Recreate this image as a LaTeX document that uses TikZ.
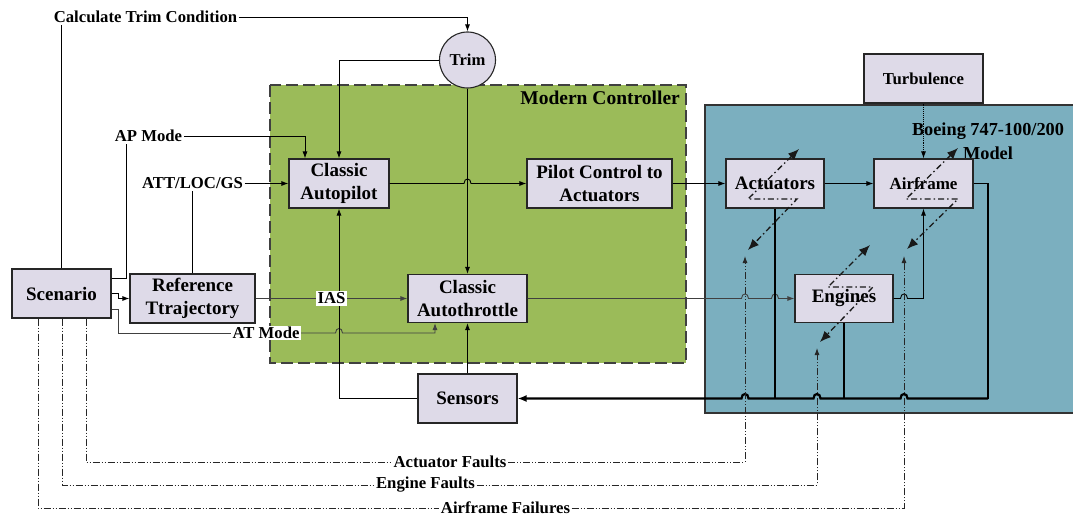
\documentclass[tikz,border=0pt]{standalone}
\usepackage{fontspec}
\setmainfont{Liberation Serif}
\usetikzlibrary{arrows.meta}
\definecolor{boxfill}{RGB}{222,218,232}
\definecolor{ctrlgreen}{RGB}{155,187,89}
\definecolor{plantblue}{RGB}{123,175,191}
\tikzset{
  blk/.style={draw=black!85, fill=boxfill, line width=1.1pt, inner sep=0pt, align=center,
              font=\fontsize{19}{23}\selectfont\bfseries},
  lbl/.style={inner sep=1.5pt, font=\fontsize{16.7}{19}\selectfont\bfseries},
  wlbl/.style={lbl, fill=white},
  conn/.style={draw=black, line width=0.9pt},
  arr/.style={conn, -{Latex[length=7pt,width=5pt]}},
  busline/.style={draw=black, line width=1.5pt},
  busarr/.style={draw=black, line width=2.2pt, -{Latex[length=9pt,width=7pt]}},
  faultline/.style={draw=black!85, line width=0.9pt,
     dash pattern=on 7pt off 2pt on 1pt off 2pt on 1pt off 2pt, -{Latex[length=7pt,width=5pt]}},
  zfault/.style={draw=black!90, line width=1.3pt, dash pattern=on 6pt off 3pt on 1.5pt off 3pt,
     {Latex[length=11pt,width=9pt]}-{Latex[length=11pt,width=9pt]}},
  hop/.style args={#1,#2}{insert path={-- (#1-3.5,#2) .. controls (#1-3.5,#2-6) and (#1+3.5,#2-6) .. (#1+3.5,#2)}},
  hopl/.style args={#1,#2}{insert path={-- (#1+3.5,#2) .. controls (#1+3.5,#2-6) and (#1-3.5,#2-6) .. (#1-3.5,#2)}},
}
\begin{document}
\begin{tikzpicture}[x=1pt,y=-1pt]
\useasboundingbox (0,0) rectangle (1073,516);
\clip (0,0) rectangle (1073,516);
\fill[white] (0,0) rectangle (1073,516);

% group backgrounds
\draw[fill=ctrlgreen, draw=black!75, line width=1.2pt, dash pattern=on 12pt off 5pt] (270,85) rectangle (686,363);
\node[anchor=east, inner sep=0pt, font=\fontsize{19.5}{23}\selectfont\bfseries] (mclbl) at (680,98) {Modern Controller};
\draw[fill=plantblue, draw=black!80, line width=1.1pt] (705,105) rectangle (1085,413);
\node[align=center, inner sep=0pt, font=\fontsize{18.3}{24}\selectfont\bfseries] (bmlbl) at (988,141) {Boeing 747-100/200\\Model};

% blocks
\node[blk, minimum width=99pt, minimum height=49pt] (scen) at (61.5,293.5) {Scenario};
\node[blk, minimum width=125pt, minimum height=49pt] (ref) at (192.5,298.5) {Reference\\Ttrajectory};
\node[blk, minimum width=100pt, minimum height=49pt] (ap) at (339,183.5) {Classic\\Autopilot};
\node[blk, minimum width=145pt, minimum height=49pt] (pc) at (599.5,183.5) {Pilot Control to\\Actuators};
\node[blk, minimum width=98pt, minimum height=49pt] (act) at (775,183.5) {Actuators};
\node[blk, minimum width=99pt, minimum height=49pt, font=\fontsize{17}{20}\selectfont\bfseries] (air) at (923.5,183.5) {Airframe};
\node[blk, minimum width=98pt, minimum height=48pt] (eng) at (844,298.5) {Engines};
\node[blk, minimum width=119pt, minimum height=48pt] (at) at (467.5,298.5) {Classic\\Autothrottle};
\node[blk, minimum width=99pt, minimum height=49pt] (sen) at (467.5,398.5) {Sensors};
\node[blk, minimum width=119pt, minimum height=49pt, font=\fontsize{16.7}{19}\selectfont\bfseries] (turb) at (923.5,78.5) {Turbulence};
\node[blk, circle, minimum size=56pt, font=\fontsize{16.6}{19}\selectfont\bfseries] (trim) at (467.5,60) {Trim};

% labels
\node[lbl] (ctc) at (145.5,17) {Calculate Trim Condition};
\node[lbl] (apm) at (148.5,136) {AP Mode};
\node[lbl] (att) at (192.5,183.5) {ATT/LOC/GS};
\node[wlbl] (atm) at (266,333) {AT Mode};
\node[wlbl] (afl) at (450,462) {Actuator Faults};
\node[wlbl] (efl) at (425.5,485) {Engine Faults};
\node[wlbl] (ffl) at (505.5,508) {Airframe Failures};

\coordinate (busr) at (988,398.5);
\coordinate (fa) at (745,256);
\coordinate (fe) at (817,348);
\coordinate (ff) at (904,256);

% connectors
\draw[conn] (scen.north) -- (scen.north |- ctc.south);
\draw[arr] (ctc.east) -| (trim.north);
\draw[conn] ([yshift=15.5pt]scen.east) -| ([xshift=-22.5pt]apm.south);
\draw[arr] (apm.east) -| ([xshift=-34pt]ap.north);
\draw[arr] (att.east) -- (ap.west);
\draw[conn] (ref.north) -- (att.south);
\draw[arr] (trim.west) -| (ap.north);
\draw[arr] (trim.south) -- (at.north);
\draw[arr] (ap.east) [hop={467.5,183.5}] -- (pc.west);
\draw[arr] (pc.east) -- (act.west);
\draw[arr] (act.east) -- (air.west);
\draw[arr, densely dotted] (turb.south) -- (air.north);
\draw[arr] (scen.east) -- ++(7,0) |- (ref.west);
\draw[conn, draw=black!75] ([yshift=-15.5pt]scen.east) -- ++(7,0) |- (atm.west);
\draw[arr, draw=black!75] (atm.east) [hop={339,333}] -| ([xshift=-32.5pt]at.south);
\draw[arr, draw=black!75] (ref.east) -- (at.west);
\draw[arr] (sen.west) -| (ap.south);
\draw[arr] (sen.north) -- (at.south);
\draw[arr, draw=black!75] (at.east) [hop={745,298.5}] [hop={775,298.5}] -- (eng.west);
\draw[arr] (eng.east) [hop={904,298.5}] -| (air.south);
\draw[busline] (air.east) -| (busr);
\draw[busline] (act.south) -- (act.south |- busr);
\draw[busline] (eng.south) -- (eng.south |- busr);
\draw[busarr] (busr) [hopl={904,398.5}] [hopl={817,398.5}] [hopl={745,398.5}] -- (sen.east);

% fault lines
\draw[faultline, -] ([xshift=24.5pt]scen.south) |- (afl.west);
\draw[faultline] (afl.east) -| (fa);
\draw[faultline, -] ([xshift=0.5pt]scen.south) |- (efl.west);
\draw[faultline] (efl.east) -| (fe);
\draw[faultline, -] ([xshift=-23.5pt]scen.south) |- (ffl.west);
\draw[faultline] (ffl.east) -| (ff);

% fault symbols
\draw[zfault] (799,149) -- (748,199) -- (797,199) -- (748,250);
\draw[zfault] (958,148) -- (906,199) -- (958,199) -- (907,249);
\draw[zfault] (870,245) -- (828,287) -- (873,287) -- (820,342);

\node[wlbl] (ias) at (331.5,298.5) {IAS};
\end{tikzpicture}
\end{document}
